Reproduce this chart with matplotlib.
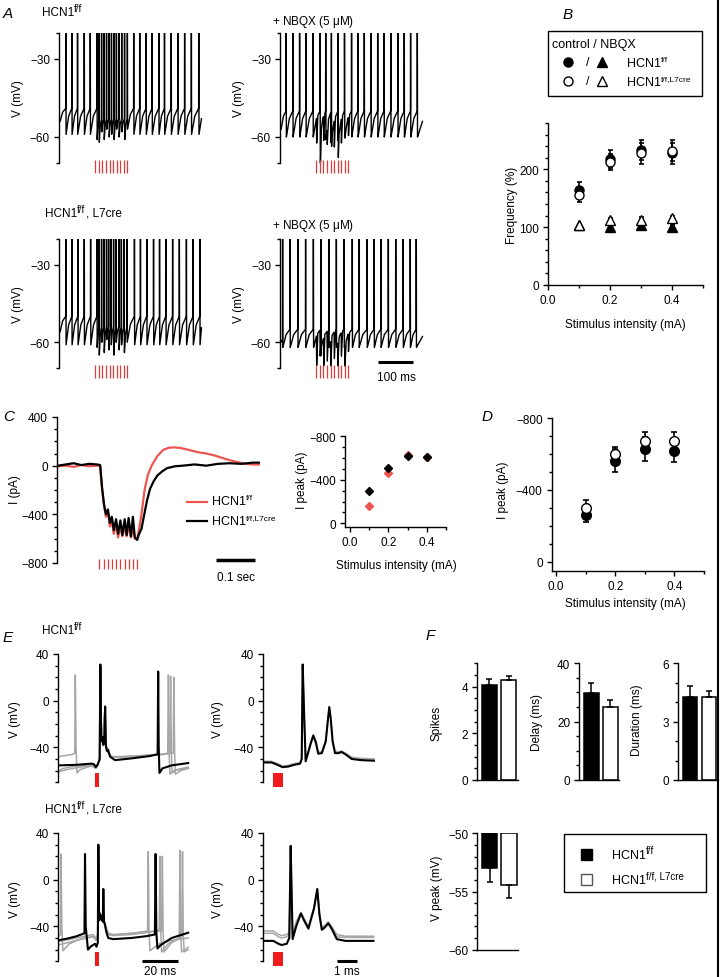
import numpy as np
import matplotlib
matplotlib.use('Agg')
import matplotlib.pyplot as plt
from matplotlib.lines import Line2D
from matplotlib.patches import Rectangle

plt.rcParams['font.family'] = ['Liberation Sans', 'DejaVu Sans']
plt.rcParams['mathtext.fontset'] = 'custom'
plt.rcParams['mathtext.rm'] = 'Liberation Sans'
plt.rcParams['font.size'] = 8.5

W, H = 720, 978
RED = '#e23b3b'

# ---- A: spike trains (ms, mV) ----
a_stim = [100, 110, 120, 130, 140, 150, 160, 170, 180, 190]
a_ff_ctrl_spk = [16, 33, 49, 68, 85, 104, 110, 117, 124, 131, 138, 145, 152, 159, 166, 174, 182, 190,
                 208, 225, 243, 260, 279, 295, 314, 333, 352, 371, 392]
a_ff_ctrl_ahp = [-59, -59, -59, -59, -59, -61, -62, -58, -61, -57, -60, -59, -61, -57, -60, -58, -61, -57,
                 -59, -59, -59, -59, -59, -59, -59, -59, -59, -59, -59]
a_ff_nbqx_spk = [14, 33, 52, 70, 90, 110, 126, 142, 161, 179, 199, 217, 235, 254, 273, 291, 310, 330, 348, 366, 385]
a_ff_nbqx_ahp = [-60, -60, -60, -60, -60, -60, -61, -60, -61, -60, -60, -60, -60, -60, -60, -60, -60, -60, -60, -60, -60]
a_ff_nbqx_dip = [-63, -65, -62, -64, -63, -65, -62, -63, -61, -60]
a_cre_ctrl_spk = [16, 33, 50, 68, 86, 104, 110, 117, 124, 131, 137, 144, 151, 158, 166, 173, 181, 189,
                  210, 227, 245, 264, 281, 299, 318, 337, 357, 376, 395]
a_cre_ctrl_ahp = [-61, -61, -61, -61, -61, -62, -65, -60, -64, -59, -63, -61, -65, -60, -63, -61, -64, -60,
                  -61, -61, -61, -61, -61, -61, -61, -61, -61, -61, -61]
a_cre_nbqx_spk = [4, 25, 47, 69, 91, 112, 135, 156, 178, 201, 220, 243, 263, 282, 303, 324, 345, 365, 382]
a_cre_nbqx_ahp = [-62, -62, -62, -62, -62, -62, -62, -62, -62, -62, -62, -62, -62, -62, -62, -62, -62, -62, -62]
a_cre_nbqx_dip = [-70, -66, -70, -68, -70, -67, -70, -66, -70, -64]

# ---- B: frequency (%) vs stimulus (mA) ----
stim_ma = [0.1, 0.2, 0.3, 0.4]
b_ff_ctrl = [165, 218, 233, 228]
b_ff_ctrl_err = [13, 15, 17, 18]
b_cre_ctrl = [155, 212, 228, 232]
b_cre_ctrl_err = [12, 14, 18, 18]
b_ff_nbqx = [103, 101, 104, 101]
b_ff_nbqx_err = [3, 3, 3, 3]
b_cre_nbqx = [103, 112, 113, 115]
b_cre_nbqx_err = [3, 4, 4, 4]

# ---- C: EPSC traces (s, pA) ----
c_stim = [0.106, 0.117, 0.127, 0.138, 0.149, 0.160, 0.171, 0.181, 0.192, 0.203]
c_t_ff = [0, 0.02, 0.04, 0.06, 0.08, 0.10, 0.108, 0.113, 0.118, 0.123, 0.128, 0.133, 0.138, 0.143, 0.149,
          0.154, 0.160, 0.165, 0.171, 0.176, 0.181, 0.187, 0.192, 0.197, 0.203, 0.208, 0.214, 0.222, 0.230,
          0.240, 0.255, 0.270, 0.285, 0.300, 0.315, 0.335, 0.36, 0.38, 0.40, 0.42, 0.44, 0.46, 0.48, 0.50, 0.515]
c_i_ff = [-5, 0, -10, 5, -5, 0, 0, -200, -330, -420, -380, -500, -450, -560, -480, -590, -500, -580, -500,
          -580, -490, -590, -510, -600, -600, -520, -400, -200, -80, 0, 80, 130, 148, 150, 145, 130, 110,
          100, 85, 65, 45, 30, 15, 10, 10]
c_t_cre = [0, 0.02, 0.04, 0.06, 0.08, 0.10, 0.108, 0.113, 0.118, 0.123, 0.128, 0.133, 0.138, 0.143, 0.149,
           0.154, 0.160, 0.165, 0.171, 0.176, 0.181, 0.187, 0.192, 0.197, 0.203, 0.208, 0.214, 0.220, 0.228,
           0.236, 0.245, 0.255, 0.268, 0.28, 0.30, 0.32, 0.35, 0.38, 0.41, 0.44, 0.47, 0.50, 0.515]
c_i_cre = [0, 10, 20, 5, 15, 10, 5, -180, -320, -400, -360, -470, -420, -530, -440, -560, -450, -570, -440,
           -570, -430, -580, -420, -590, -610, -560, -520, -420, -290, -190, -130, -80, -45, -20, -5, 0, 10,
           0, 15, 20, 15, 25, 25]
c_peak_ff = [-158, -465, -630, -612]
c_peak_cre = [-298, -513, -619, -606]

# ---- D: mean peak current (pA) ----
d_ff = [-260, -563, -628, -615]
d_ff_err = [40, 65, 65, 58]
d_cre = [-297, -600, -674, -674]
d_cre_err = [47, 37, 47, 47]

# ---- E: single sweeps (ms, mV) ----
e_ff_long_t = [0, 10, 18, 19.5, 20.5, 21.5, 22.6, 23.0, 23.4, 23.8, 24.2, 24.6, 25.2, 25.6, 26.0, 26.5, 27.2,
               28.3, 31, 40, 50, 54.3, 54.6, 54.9, 55.3, 57, 62, 71]
e_ff_long_v = [-55.5, -55, -54, -54.5, -57, -55, -50, 31, -30, -35, -31, -38, -30, -5, -38, -43, -42, -48,
               -51, -49.5, -47.5, -46, 25, -40, -62, -58, -55.5, -53.5]
e_ff_long_g1_t = [0, 8, 9.0, 9.3, 9.7, 10.2, 12, 18, 20.5, 22.6, 23.0, 23.4, 24, 25.6, 26.0, 27, 29, 35, 45,
                  55, 59.8, 60.2, 60.6, 61, 63, 71]
e_ff_long_g1_v = [-48, -46, -45, 22, -40, -62, -59, -56, -58, -51, 28, -32, -33, -7, -38, -44, -48, -48.5,
                  -47.5, -46.5, -45.5, 22, -45, -63, -60, -58]
e_ff_long_g2_t = [0, 3, 8, 14, 19, 20.5, 22.7, 23.1, 23.5, 24, 25.8, 26.2, 27, 29, 35, 45, 55, 61.0, 61.4,
                  61.8, 62.2, 65, 71]
e_ff_long_g2_v = [-60, -58, -56.5, -55.5, -55, -57.5, -51, 29, -31, -34, -6, -40, -44, -48, -48, -47, -46,
                  -45, 21, -44, -62, -59, -57]
e_ff_long_g3_t = [0, 5, 12, 19, 20.5, 22.5, 22.9, 23.3, 24, 25.5, 25.9, 27, 29, 35, 45, 55, 62.8, 63.2, 63.6,
                  64, 67, 71]
e_ff_long_g3_v = [-61, -59, -57, -55.5, -58, -51, 30, -30, -33, -7, -39, -44, -48, -48, -47.5, -46.5, -45,
                  20, -45, -63, -60, -58]

e_short_t = [0, 0.45, 0.75, 1.0, 1.3, 1.6, 1.9, 1.98, 2.03, 2.1, 2.18, 2.3, 2.45, 2.57, 2.7, 2.82, 3.0, 3.2,
             3.32, 3.38, 3.45, 3.55, 3.67, 3.85, 4.0, 4.2, 4.52, 5.0, 5.7]
e_ff_short_v = [-53, -53, -55, -57, -56.5, -55, -54, -50, 31, -10, -52, -45, -36, -30, -36, -45.5, -45, -35,
                -15, -5.5, -15, -35, -45, -45, -44, -46, -50, -51, -51.5]
e_ff_short_g1_v = [-52, -52, -54, -56, -55.5, -54, -53, -49, 29, -10, -50, -44, -35, -29, -35, -44, -44,
                   -34, -14, -6, -15, -34, -43, -44, -43, -45, -48.5, -49.5, -50]

e_cre_long_t = [0, 5, 10, 14.3, 14.6, 15.0, 16.2, 18, 20.1, 20.9, 21.6, 21.9, 22.3, 22.8, 23.3, 23.8, 24.3,
                24.6, 25.0, 25.5, 26.3, 27.3, 30, 40, 48, 52.8, 53.2, 53.6, 54.2, 56, 62, 71]
e_cre_long_v = [-52, -50.5, -48.5, -46, 22, -40, -60, -57, -55, -57.5, -54, 30, -35, -29, -34, -31, -36, -8,
                -36, -38, -45, -50, -51, -50, -48.5, -47, 22, -45, -59, -56, -50, -45.5]
e_cre_long_g1_t = [0, 1.2, 1.5, 1.9, 2.5, 6, 12, 19, 20.5, 21.6, 21.9, 22.3, 23, 24.3, 24.6, 25, 26, 27.5,
                   30, 40, 48.8, 49.2, 49.6, 50.1, 55, 62, 71]
e_cre_long_g1_v = [-49, -47, 22, -40, -61, -55, -51, -48.5, -51, -48, 28, -33, -30, -35, -9, -36, -43, -47,
                   -47.5, -46, -44, 24, -45, -61, -55, -52, -50]
e_cre_long_g2_t = [0, 10, 19, 20.5, 21.6, 21.9, 22.3, 23, 24.3, 24.6, 25, 26, 27.5, 30, 40, 50, 55.2, 55.6,
                   56.0, 56.5, 60, 66.1, 66.5, 66.9, 67.4, 71]
e_cre_long_g2_v = [-53, -50, -47, -50, -47, 27, -32, -30, -35, -8, -37, -44, -47, -48, -47, -45, -43, 20,
                   -45, -62, -55, -50, 25, -45, -62, -58]
e_cre_long_g3_t = [0, 10, 19, 20.5, 21.6, 21.9, 22.3, 24.3, 24.6, 25, 27.5, 30, 40, 50, 56.5, 56.9, 57.3,
                   57.8, 62, 67.5, 67.9, 68.3, 68.8, 71]
e_cre_long_g3_v = [-56, -52, -49, -52, -49, 26, -33, -35, -9, -37, -46, -47, -46, -44.5, -44, 20, -45, -62,
                   -54, -49, 24, -45, -62, -60]

e_cre_short_t = [0, 0.54, 0.8, 0.96, 1.22, 1.35, 1.42, 1.48, 1.52, 1.7, 1.94, 2.1, 2.32, 2.6, 2.77, 2.88, 3.0,
                 3.15, 3.33, 3.5, 3.76, 4.2, 5.62]
e_cre_short_v = [-52.5, -52.5, -55, -56, -55, -50, 29, -20, -51, -40, -29, -35, -42, -25, -8, -30, -43, -41,
                 -37.5, -42, -51, -52.5, -52.5]
e_cre_short_g1_v = [-44, -44, -47, -48, -47, -45, 27, -20, -47, -36, -28, -33, -40, -24, -9, -29, -41, -39,
                    -36, -40, -47, -48.5, -48.5]
e_cre_short_g2_v = [-46, -46, -49, -50, -49, -47, 28, -20, -49, -38, -29, -34, -41, -25, -9, -30, -42, -40,
                    -37, -41, -49, -49.5, -49.5]

# ---- F: summary bars ----
f_spikes = [4.05, 4.3]
f_spikes_err = [0.28, 0.17]
f_delay = [29.7, 24.9]
f_delay_err = [3.4, 2.5]
f_dur = [4.25, 4.28]
f_dur_err = [0.6, 0.3]
f_vpeak = [-53.0, -54.4]
f_vpeak_err = [1.2, 1.2]


fig = plt.figure(figsize=(W / 100, H / 100), dpi=100)
renderer = fig.canvas.get_renderer()


def px_axes(x0, y0, x1, y1):
    return fig.add_axes([x0 / W, 1 - y1 / H, (x1 - x0) / W, (y1 - y0) / H])


def ftext(x, y, s, **kw):
    return fig.text(x / W, 1 - y / H, s, **kw)


def fline(xs, ys, **kw):
    fig.add_artist(Line2D([x / W for x in xs], [1 - y / H for y in ys], **kw))


def sup_text(x, y, parts, size=8.5, sup_size=7, rise=4):
    # parts: list of (text, is_superscript); y is the baseline in pixels
    cx = x
    for s, sup in parts:
        t = ftext(cx, y - rise if sup else y, s, fontsize=sup_size if sup else size, va='baseline')
        cx += t.get_window_extent(renderer=renderer).width


def style(ax, xaxis=True):
    for s in ('top', 'right'):
        ax.spines[s].set_visible(False)
    if not xaxis:
        ax.spines['bottom'].set_visible(False)
        ax.set_xticks([])
    for s in ax.spines.values():
        s.set_linewidth(1.0)
    ax.tick_params(which='major', length=3.5, width=1.0, pad=3, labelsize=8.5)
    ax.tick_params(which='minor', length=2.2, width=1.0)
    ax.patch.set_visible(False)


def spike_train(spk, ahp, v0, thr, t_end=400, peak=0):
    t, v = [0.0], [v0]
    t_prev, v_prev = 0.0, v0
    for ts, va in zip(spk, ahp):
        isi = ts - t_prev
        top = thr if isi > 12 else thr - 4
        if isi > 2:
            t.append(t_prev + 0.45 * isi)
            v.append(v_prev + 0.7 * (top - v_prev))
        t += [ts, ts + 0.4, ts + 1.0]
        v += [top, peak, va]
        t_prev, v_prev = ts + 1.0, va
    t.append(t_end)
    v.append(v_prev + 0.6 * (thr - v_prev))
    return np.array(t), np.array(v)


def add_dips(t, v, dip_t, dip_v):
    tg = np.union1d(np.arange(0, t[-1], 0.25), t)
    vg = np.interp(tg, t, v)
    for td, vd in zip(dip_t, dip_v):
        base = min(np.interp(td, t, v), -50)
        k = np.interp(tg, [td, td + 0.6, td + 4], [0, 1, 0], left=0, right=0)
        vg = vg + k * (vd - base)
    return tg, vg


# ================= A =================
a_traces = [
    spike_train(a_ff_ctrl_spk, a_ff_ctrl_ahp, -54, -49),
    add_dips(*spike_train(a_ff_nbqx_spk, a_ff_nbqx_ahp, -57, -50), a_stim, a_ff_nbqx_dip),
    spike_train(a_cre_ctrl_spk, a_cre_ctrl_ahp, -56, -50),
    add_dips(*spike_train(a_cre_nbqx_spk, a_cre_nbqx_ahp, -60, -55), a_stim, a_cre_nbqx_dip),
]
a_boxes = [(59, 34, 205, 164), (280, 34, 426, 164), (59, 240, 205, 369), (280, 240, 426, 369)]
a_axes = []
for box, (t, v) in zip(a_boxes, a_traces):
    ax = px_axes(*box)
    style(ax, xaxis=False)
    ax.plot(t, v, color='black', lw=1.0)
    ax.vlines(a_stim, -74, -69, color=RED, lw=0.9, clip_on=False)
    ax.set_xlim(-3, 410)
    ax.set_ylim(-70, -20)
    ax.set_yticks([-60, -30])
    ax.set_yticks([-70, -20], minor=True)
    a_axes.append(ax)
a_axes[3].plot([274, 374], [-67.7, -67.7], color='black', lw=2.2, clip_on=False, solid_capstyle='butt')
ftext(396, 381, '100 ms', ha='center', va='baseline')
for x, y in [(18, 99), (239, 99), (18, 305), (239, 305)]:
    ftext(x, y, 'V (mV)', rotation=90, ha='center', va='center')
ftext(3, 18, 'A', fontsize=11, style='italic', va='baseline')
sup_text(42, 16, [('HCN1', False), ('f/f', True)])
ftext(272, 25, r'+ NBQX (5 $\mathrm{\mu}$M)', va='baseline')
sup_text(45, 217, [('HCN1', False), ('f/f', True), (', L7cre', False)])
ftext(272, 229, r'+ NBQX (5 $\mathrm{\mu}$M)', va='baseline')

# ================= B =================
axb = px_axes(548, 124, 703, 286)
style(axb)
ekw = dict(capsize=1.8, elinewidth=1.2, capthick=1.2, ecolor='black', ls='none')
axb.errorbar(stim_ma, b_ff_ctrl, yerr=b_ff_ctrl_err, marker='o', ms=6.5, mfc='black', mec='black', **ekw)
axb.errorbar(stim_ma, b_cre_ctrl, yerr=b_cre_ctrl_err, marker='o', ms=6.5, mfc='white', mec='black', **ekw)
axb.errorbar(stim_ma, b_ff_nbqx, yerr=b_ff_nbqx_err, marker='^', ms=6.5, mfc='black', mec='black', **ekw)
axb.errorbar(stim_ma, b_cre_nbqx, yerr=b_cre_nbqx_err, marker='^', ms=6.5, mfc='white', mec='black', **ekw)
axb.set_xlim(0, 0.5)
axb.set_ylim(0, 280)
axb.set_yticks([0, 100, 200])
axb.set_yticks(np.arange(0, 281, 20), minor=True)
axb.set_xticks([0, 0.2, 0.4])
axb.set_xticks([0.1, 0.3, 0.5], minor=True)
axb.set_xticklabels(['0.0', '0.2', '0.4'])
ftext(512, 205, 'Frequency (%)', rotation=90, ha='center', va='center')
ftext(625, 325, 'Stimulus intensity (mA)', ha='center', va='center')
ftext(563, 19, 'B', fontsize=11, style='italic', va='baseline')
fig.add_artist(Rectangle((548 / W, 1 - 97 / H), 154 / W, 65 / H, transform=fig.transFigure,
                         fill=False, lw=1.0, ec='black'))
ftext(552, 45, 'control / NBQX', va='center', fontsize=9)
for y, fc in [(63, 'black'), (82, 'white')]:
    fline([567.7], [y], marker='o', ms=6.5, mfc=fc, mec='black', ls='none')
    fline([601.7], [y], marker='^', ms=6.5, mfc=fc, mec='black', ls='none')
    ftext(588, y, '/', ha='center', va='center', fontsize=9)
sup_text(627, 67, [('HCN1', False), ('f/f', True)], size=9, sup_size=6, rise=5)
sup_text(627, 86, [('HCN1', False), ('f/f,L7cre', True)], size=9, sup_size=6, rise=5)

# ================= C =================
axc = px_axes(57, 418, 260, 564)
style(axc, xaxis=False)
axc.plot(c_t_ff, c_i_ff, color='#ee5552', lw=1.6)
axc.plot(c_t_cre, c_i_cre, color='black', lw=1.6)
axc.vlines(c_stim, -850, -770, color=RED, lw=0.9, clip_on=False)
axc.set_xlim(-0.0026, 0.518)
axc.set_ylim(-800, 400)
axc.set_yticks([-800, -400, 0, 400])
axc.set_yticks(np.arange(-800, 401, 100), minor=True)
axc.plot([0.405, 0.505], [-775, -775], color='black', lw=2.5, clip_on=False, solid_capstyle='butt')
ftext(236, 581, '0.1 sec', ha='center', va='baseline')
ftext(15, 490, 'I (pA)', rotation=90, ha='center', va='center')
ftext(3, 421, 'C', fontsize=11, style='italic', va='baseline')
fline([187, 207], [502.7, 502.7], color='#ee5552', lw=1.6)
fline([187, 207], [522, 522], color='black', lw=1.6)
sup_text(212, 505, [('HCN1', False), ('f/f', True)], size=9, sup_size=6, rise=5)
sup_text(212, 525, [('HCN1', False), ('f/f,L7cre', True)], size=9, sup_size=6, rise=5)

axi = px_axes(345, 437.3, 446, 528.3)
style(axi)
axi.plot(stim_ma, c_peak_ff, ls='none', marker='D', ms=4.5, color='#ee5552')
axi.plot(stim_ma, c_peak_cre, ls='none', marker='D', ms=4.5, color='black')
axi.set_xlim(-0.026, 0.5)
axi.set_ylim(37, -800)
axi.set_yticks([-800, -400, 0])
axi.set_yticks(np.arange(-800, 1, 100), minor=True)
axi.set_xticks([0, 0.2, 0.4])
axi.set_xticks([0.1, 0.3, 0.5], minor=True)
axi.set_xticklabels(['0.0', '0.2', '0.4'])
ftext(302, 480, 'I peak (pA)', rotation=90, ha='center', va='center')
ftext(396.7, 565.7, 'Stimulus intensity (mA)', ha='center', va='center')

# ================= D =================
axd = px_axes(551.7, 419, 704, 571.7)
style(axd)
ekd = dict(capsize=2.5, elinewidth=1.2, capthick=1.2, ecolor='black', ls='none')
axd.errorbar(stim_ma, d_ff, yerr=d_ff_err, marker='o', ms=7, mfc='black', mec='black', **ekd)
axd.errorbar(stim_ma, d_cre, yerr=d_cre_err, marker='o', ms=7, mfc='white', mec='black', **ekd)
axd.set_xlim(-0.0145, 0.5)
axd.set_ylim(50, -800)
axd.set_yticks([-800, -400, 0])
axd.set_yticks(np.arange(-800, 1, 100), minor=True)
axd.set_xticks([0, 0.2, 0.4])
axd.set_xticks([0.1, 0.3, 0.5], minor=True)
axd.set_xticklabels(['0.0', '0.2', '0.4'])
ftext(502.7, 490, 'I peak (pA)', rotation=90, ha='center', va='center')
ftext(625, 604, 'Stimulus intensity (mA)', ha='center', va='center')
ftext(482, 421, 'D', fontsize=11, style='italic', va='baseline')

# ================= E =================
GREY = '#a6a6a6'
e_specs = [
    ((58.3, 655, 190, 783.3), (0, 72), (20.0, 2.2),
     [(e_ff_long_g1_t, e_ff_long_g1_v), (e_ff_long_g2_t, e_ff_long_g2_v), (e_ff_long_g3_t, e_ff_long_g3_v)],
     (e_ff_long_t, e_ff_long_v)),
    ((262.7, 655, 375, 783.3), (0, 5.7), (0.51, 0.54),
     [(e_short_t, e_ff_short_g1_v)], (e_short_t, e_ff_short_v)),
    ((58.3, 834, 190, 962.3), (0, 72), (20.0, 2.2),
     [(e_cre_long_g1_t, e_cre_long_g1_v), (e_cre_long_g2_t, e_cre_long_g2_v),
      (e_cre_long_g3_t, e_cre_long_g3_v)], (e_cre_long_t, e_cre_long_v)),
    ((262.7, 834, 375, 962.3), (0, 5.7), (0.51, 0.54),
     [(e_cre_short_t, e_cre_short_g1_v), (e_cre_short_t, e_cre_short_g2_v)], (e_cre_short_t, e_cre_short_v)),
]
e_axes = []
for box, xl, (s0, sw), greys, (bt, bv) in e_specs:
    ax = px_axes(*box)
    style(ax, xaxis=False)
    for gt, gv in greys:
        ax.plot(gt, gv, color=GREY, lw=1.1)
    ax.plot(bt, bv, color='black', lw=1.5)
    ax.add_patch(Rectangle((s0, -73.7), sw, 11.7, color='#ee1c1c', clip_on=False, lw=0))
    ax.set_xlim(*xl)
    ax.set_ylim(-70, 40)
    ax.set_yticks([-40, 0, 40])
    ax.set_yticks(np.arange(-70, 41, 10), minor=True)
    e_axes.append(ax)
e_axes[2].plot([45.6, 65.6], [-70, -70], color='black', lw=2.2, clip_on=False, solid_capstyle='butt')
e_axes[3].plot([3.77, 4.77], [-70, -70], color='black', lw=2.2, clip_on=False, solid_capstyle='butt')
ftext(160, 975, '20 ms', ha='center', va='baseline')
ftext(347, 975, '1 ms', ha='center', va='baseline')
for x, y in [(15, 720), (218.3, 720), (15, 900), (218.3, 900)]:
    ftext(x, y, 'V (mV)', rotation=90, ha='center', va='center')
ftext(3, 641.7, 'E', fontsize=11, style='italic', va='baseline')
sup_text(42, 634, [('HCN1', False), ('f/f', True)])
sup_text(45, 813, [('HCN1', False), ('f/f', True), (', L7cre', False)])

# ================= F =================
fx = [0, 1]
bw = 0.78
fkw = dict(width=bw, edgecolor='black', linewidth=1.1)


def f_bars(ax, vals, errs, down=False, bottom=0):
    hts = [v - bottom for v in vals]
    ax.bar(fx, hts, bottom=bottom, color=['black', 'white'], **fkw)
    yerr = [errs, [0, 0]] if down else [[0, 0], errs]
    ax.errorbar(fx, vals, yerr=yerr, ls='none', ecolor='black', elinewidth=1.1, capsize=2.5, capthick=1.1)
    ax.set_xlim(-0.63, 1.48)
    ax.set_xticks([])


axf1 = px_axes(477.3, 664.3, 518, 781)
style(axf1)
f_bars(axf1, f_spikes, f_spikes_err)
axf1.set_ylim(0, 5)
axf1.set_yticks([0, 2, 4])
axf1.set_yticks(np.arange(0, 5.01, 0.5), minor=True)

axf2 = px_axes(579.3, 664.3, 619.3, 781)
style(axf2)
f_bars(axf2, f_delay, f_delay_err)
axf2.set_ylim(0, 40)
axf2.set_yticks([0, 20, 40])
axf2.set_yticks(np.arange(0, 41, 5), minor=True)

axf3 = px_axes(678.3, 664.3, 718, 781)
style(axf3)
f_bars(axf3, f_dur, f_dur_err)
axf3.set_ylim(0, 6)
axf3.set_yticks([0, 3, 6])
axf3.set_yticks(np.arange(0, 7, 1), minor=True)

axf4 = px_axes(477.3, 834.3, 518.3, 950.7)
style(axf4)
f_bars(axf4, f_vpeak, f_vpeak_err, down=True, bottom=-50)
axf4.set_ylim(-60, -50)
axf4.set_yticks([-60, -55, -50])
axf4.set_yticks(np.arange(-60, -49, 1), minor=True)

ftext(436.7, 723, 'Spikes', rotation=90, ha='center', va='center')
ftext(537.3, 723, 'Delay (ms)', rotation=90, ha='center', va='center')
ftext(637.3, 720, 'Duration (ms)', rotation=90, ha='center', va='center')
ftext(436.7, 888, 'V peak (mV)', rotation=90, ha='center', va='center')
ftext(426, 640, 'F', fontsize=11, style='italic', va='baseline')

fig.add_artist(Rectangle((564 / W, 1 - 893.3 / H), 141.7 / W, 58.3 / H, transform=fig.transFigure,
                         fill=False, lw=1.0, ec='black'))
fig.add_artist(Rectangle((580.5 / W, 1 - 861 / H), 11 / W, 11 / H, transform=fig.transFigure,
                         fc='black', ec='black', lw=1))
fig.add_artist(Rectangle((580.5 / W, 1 - 886 / H), 11 / W, 11 / H, transform=fig.transFigure,
                         fc='white', ec='#555555', lw=1))
sup_text(612, 859, [('HCN1', False), ('f/f', True)], size=9, sup_size=7, rise=4.5)
sup_text(612, 884, [('HCN1', False), ('f/f, L7cre', True)], size=9, sup_size=7, rise=4.5)

# right border rule
fline([718, 718], [0, 978], color='black', lw=1.5)

fig.savefig('out.png', dpi=100)
